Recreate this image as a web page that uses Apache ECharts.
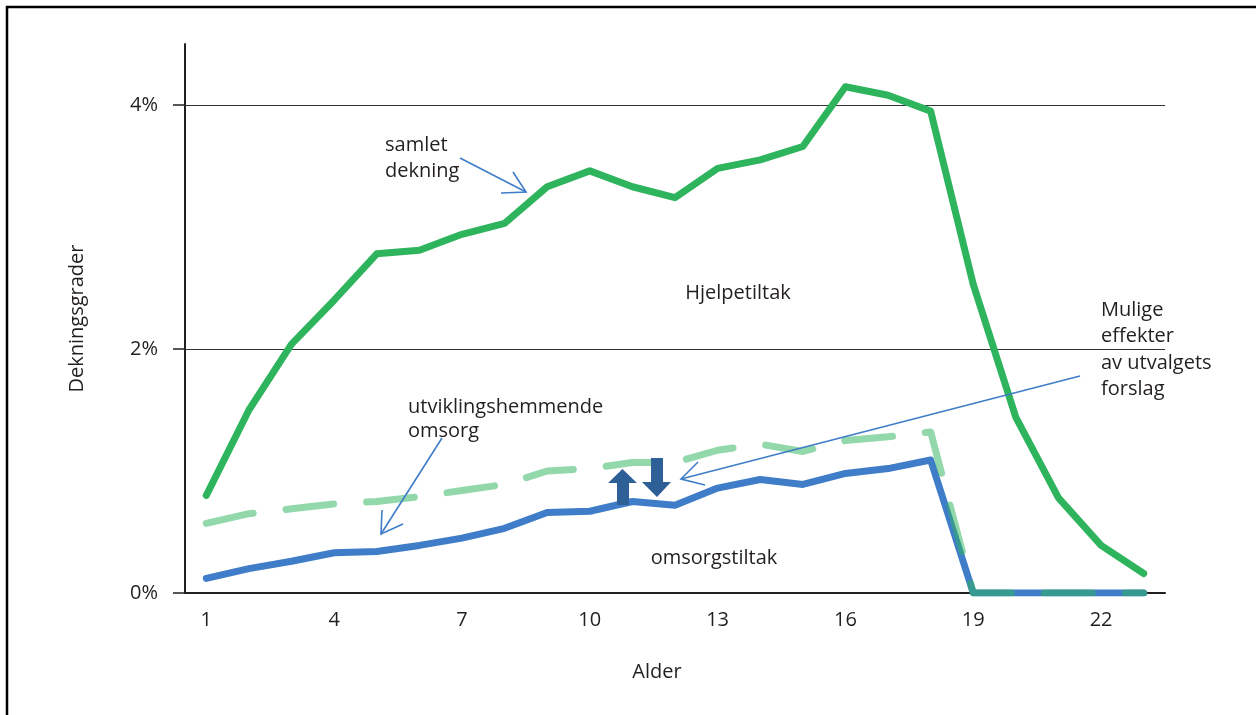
<!DOCTYPE html>
<html>
<head>
<meta charset="utf-8">
<script src="https://cdn.jsdelivr.net/npm/echarts@6/dist/echarts.min.js"></script>
<style>
  html, body { margin: 0; padding: 0; background: #fff; }
  #chart { width: 1256px; height: 715px; }
</style>
</head>
<body>
<div id="chart"></div>
<script>
// ages 1..23
const ages = ['1','2','3','4','5','6','7','8','9','10','11','12','13','14','15','16','17','18','19','20','21','22','23'];
// samlet dekning (%)
const samlet = [0.80, 1.50, 2.04, 2.40, 2.78, 2.81, 2.94, 3.03, 3.33, 3.46, 3.33, 3.24, 3.48, 3.55, 3.66, 4.15, 4.08, 3.95, 2.53, 1.44, 0.78, 0.39, 0.16];
// omsorgstiltak (%)
const omsorg = [0.12, 0.20, 0.26, 0.33, 0.34, 0.39, 0.45, 0.53, 0.66, 0.67, 0.75, 0.72, 0.86, 0.93, 0.89, 0.98, 1.02, 1.09, 0, 0, 0, 0, 0];
// utviklingshemmende omsorg (%)
const utvikling = [0.57, 0.65, 0.69, 0.73, 0.75, 0.79, 0.84, 0.89, 1.00, 1.02, 1.07, 1.07, 1.17, 1.22, 1.16, 1.25, 1.28, 1.32, 0, 0, 0, 0, 0];
const yTicks = [0, 2, 4];

const txt = '#231f20';
const font = '"Open Sans", sans-serif';
const fs = 20;
const green = '#2eb45c';
const blue = '#3f7dc8';
const dark = '#2e5f96';

const textEl = (x, y, text, align) => ({
  type: 'text', x, y, z: 10,
  style: { text, fill: txt, font: fs + 'px ' + font, textAlign: align || 'left', textVerticalAlign: 'middle' },
});
const lineEl = (x1, y1, x2, y2) => ({
  type: 'line', z: 10,
  shape: { x1, y1, x2, y2 },
  style: { stroke: blue, lineWidth: 1.6 },
});
const arrowHead = (pts) => ({
  type: 'polyline', z: 10,
  shape: { points: pts },
  style: { stroke: blue, lineWidth: 1.6, fill: null },
});

const option = {
  animation: false,
  grid: { left: 185, right: 91, top: 44, bottom: 122 },
  xAxis: {
    type: 'category',
    data: ages,
    boundaryGap: true,
    axisLine: { lineStyle: { color: txt, width: 2 } },
    axisTick: { interval: 0, length: 10, lineStyle: { color: txt, width: 1.5 } },
    axisLabel: { interval: 2, color: txt, fontSize: fs, fontFamily: font, margin: 17 },
    splitLine: { show: false },
  },
  yAxis: {
    type: 'value',
    min: 0,
    max: 4.5,
    axisLine: { show: true, lineStyle: { color: txt, width: 2 } },
    axisTick: { show: true, customValues: yTicks, length: 12, lineStyle: { color: txt, width: 1.5 } },
    axisLabel: { customValues: yTicks, color: txt, fontSize: fs, fontFamily: font, margin: 27, formatter: (v) => v + '%' },
    splitLine: { show: false },
    name: 'Dekningsgrader',
    nameLocation: 'middle',
    nameGap: 98,
    nameTextStyle: { color: txt, fontSize: fs, fontFamily: font },
  },
  series: [
    {
      name: 'grid',
      type: 'line',
      data: [],
      z: 1,
      markLine: {
        silent: true,
        symbol: 'none',
        label: { show: false },
        z: 1,
        lineStyle: { color: '#333', width: 1, type: 'solid' },
        data: [{ yAxis: 2 }, { yAxis: 4 }],
      },
    },
    {
      name: 'samlet dekning',
      type: 'line',
      data: samlet,
      showSymbol: false,
      z: 3,
      lineStyle: { color: green, width: 7, cap: 'round', join: 'round' },
    },
    {
      name: 'omsorgstiltak',
      type: 'line',
      data: omsorg,
      showSymbol: false,
      z: 3,
      lineStyle: { color: blue, width: 7, cap: 'round', join: 'round' },
    },
    {
      name: 'utviklingshemmende omsorg',
      type: 'line',
      data: utvikling,
      showSymbol: false,
      z: 4,
      lineStyle: { color: green, opacity: 0.52, width: 7, cap: 'round', join: 'round', type: [48, 33] },
    },
  ],
  graphic: [
    {
      type: 'rect', z: 0,
      shape: { x: 7, y: 7, width: 1270, height: 730 },
      style: { stroke: '#000', lineWidth: 2.5, fill: null },
    },
    textEl(657, 672, 'Alder', 'center'),
    textEl(385, 145, 'samlet'),
    textEl(385, 171, 'dekning'),
    textEl(738, 293, 'Hjelpetiltak', 'center'),
    textEl(714, 558, 'omsorgstiltak', 'center'),
    textEl(408, 407, 'utviklingshemmende'),
    textEl(408, 431, 'omsorg'),
    textEl(1101, 310, 'Mulige'),
    textEl(1101, 336, 'effekter'),
    textEl(1101, 363, 'av utvalgets'),
    textEl(1101, 389, 'forslag'),
    // arrow to samlet dekning
    lineEl(460, 158, 526, 192),
    arrowHead([[513, 172], [526, 192], [501, 193]]),
    // arrow to utviklingshemmende omsorg
    lineEl(442, 438, 381, 534),
    arrowHead([[382, 510], [381, 534], [403, 524]]),
    // arrow from Mulige effekter
    lineEl(1080, 376, 681, 479),
    arrowHead([[698, 462], [681, 479], [705, 485]]),
    // up block arrow
    {
      type: 'polygon', z: 9,
      shape: { points: [[617, 505], [617, 483], [608, 483], [622.5, 469], [637, 483], [629, 483], [629, 505]] },
      style: { fill: dark },
    },
    // down block arrow
    {
      type: 'polygon', z: 9,
      shape: { points: [[651, 458], [663, 458], [663, 482], [671, 482], [657, 497], [642, 482], [651, 482]] },
      style: { fill: dark },
    },
  ],
};

const chart = echarts.init(document.getElementById('chart'));
chart.setOption(option);
</script>
</body>
</html>
